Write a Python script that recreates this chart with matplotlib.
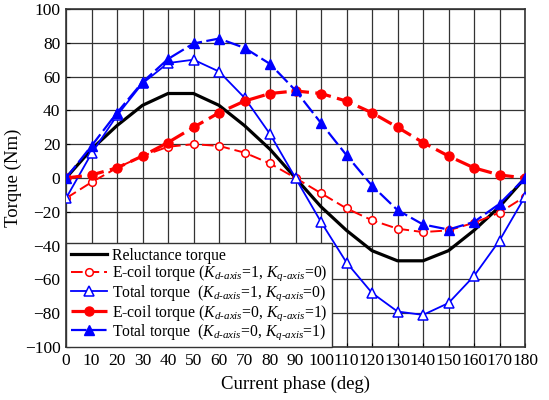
import matplotlib
matplotlib.use("Agg")
import matplotlib.pyplot as plt
import numpy as np

phase = [0, 10, 20, 30, 40, 50, 60, 70, 80, 90, 100, 110, 120, 130, 140, 150, 160, 170, 180]
reluctance = [0, 17, 31, 43, 50, 50, 43, 31, 17, 0, -17, -31, -43, -49, -49, -43, -31, -17, 0]
ecoil_d = [-12, -2.5, 6, 13, 18.5, 20, 19, 15, 8.6, 0, -9, -18, -25, -30, -32, -31, -26.5, -20.5, -11]
total_d = [-12, 14.5, 37, 56, 68, 70, 63, 47.5, 26, 0, -26, -50, -68, -79, -81, -74, -58, -37, -11]
ecoil_q = [0, 1.8, 6, 13, 21, 30, 38.6, 45.5, 50, 51.5, 50, 45.5, 38.6, 30, 21, 13, 6, 1.8, 0]
total_q = [0, 19, 38.6, 56.7, 70.4, 79.6, 82.5, 77, 67.5, 51.8, 32.5, 13.5, -4.5, -19, -27.5, -30.5, -26, -15.3, 0]

xticks = list(range(0, 181, 10))
yticks = list(range(-100, 101, 20))

plt.rcParams['font.family'] = ['Liberation Serif', 'DejaVu Serif']
plt.rcParams['mathtext.fontset'] = 'custom'
plt.rcParams['mathtext.rm'] = 'Liberation Serif'
plt.rcParams['mathtext.it'] = 'Liberation Serif:italic'
plt.rcParams['mathtext.bf'] = 'Liberation Serif:bold'

fig = plt.figure(figsize=(5.49, 4.0), dpi=100)
ax = fig.add_axes([66/549, 1-347/400, (525-66)/549, (347-9)/400])

red = '#ff0000'
blue = '#0000ff'

ax.plot(phase, reluctance, color='black', lw=2.3, label='Reluctance torque', zorder=3)
ax.plot(phase, ecoil_d, color=red, lw=1.4, ls=(0, (6, 2.5)), marker='o', ms=5.5,
        mfc='white', mec=red, mew=1.1,
        label=r'E-coil torque ($K_{d\text{-}axis}$=1, $K_{q\text{-}axis}$=0)', zorder=4)
ax.plot(phase, total_d, color=blue, lw=1.3, marker='^', ms=7,
        mfc='white', mec=blue, mew=1.1,
        label=r'Total torque  ($K_{d\text{-}axis}$=1, $K_{q\text{-}axis}$=0)', zorder=4)
ax.plot(phase, ecoil_q, color=red, lw=2.3, ls=(0, (5, 2)), marker='o', ms=6.5,
        mfc=red, mec=red,
        label=r'E-coil torque ($K_{d\text{-}axis}$=0, $K_{q\text{-}axis}$=1)', zorder=5)
ax.plot(phase, total_q, color=blue, lw=1.6, ls=(0, (7, 2)), marker='^', ms=7.5,
        mfc=blue, mec=blue,
        label=r'Total torque  ($K_{d\text{-}axis}$=0, $K_{q\text{-}axis}$=1)', zorder=5)

ax.set_xlim(0, 180)
ax.set_ylim(-100, 100)
ax.set_xticks(xticks)
ax.set_yticks(yticks)
ax.tick_params(labelsize=12.5, direction='in', length=3, pad=4)
ax.grid(True, color='#333333', lw=0.9)
ax.set_axisbelow(True)
for s in ax.spines.values():
    s.set_linewidth(1.2)
    s.set_color('#333333')

ax.set_xlabel('Current phase (deg)', fontsize=13.5, labelpad=5)
ax.set_ylabel('Torque (Nm)', fontsize=13.5, labelpad=2)

leg = ax.legend(loc='lower left', bbox_to_anchor=(0, 0), borderaxespad=0,
                fontsize=11.3, handlelength=2.3, handletextpad=0.3,
                labelspacing=0.0, borderpad=0.3, fancybox=False, framealpha=1)
leg.get_frame().set_edgecolor('#333333')
leg.get_frame().set_linewidth(1.0)

fig.savefig('out.png', dpi=100)
